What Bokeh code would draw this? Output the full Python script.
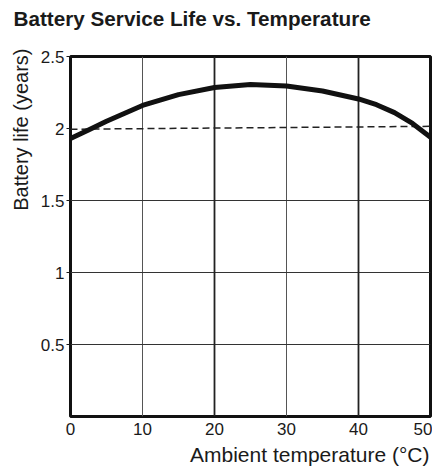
from bokeh.plotting import figure
from bokeh.models import FixedTicker, Grid, Range1d, Title
from bokeh.embed import file_html
from bokeh.resources import INLINE

# ---- data ----
temperature_c = [0, 2.5, 5, 10, 15, 20, 25, 30, 35, 40, 42.5, 45, 47.5, 50]
life_years = [1.93, 1.99, 2.05, 2.16, 2.235, 2.285, 2.305, 2.295, 2.26, 2.205, 2.165, 2.11, 2.035, 1.94]

ref_temperature_c = [0, 50]
ref_life_years = [1.995, 2.015]

x_ticks = [0, 10, 20, 30, 40, 50]
y_ticks = [0.5, 1, 1.5, 2, 2.5]

title_text = "Battery Service Life vs. Temperature"
x_label = "Ambient temperature (\u00b0C)"
y_label = "Battery life (years)"

FONT = "Liberation Sans"
INK = "#1a1a1a"

p = figure(width=432, height=472, output_backend="svg", toolbar_location=None,
           x_range=Range1d(0, 50), y_range=Range1d(0, 2.5),
           min_border_left=70, min_border_right=2, min_border_top=56, min_border_bottom=55)
p.background_fill_color = "white"
p.border_fill_color = "white"
p.outline_line_color = "#111111"
p.outline_line_width = 3

# spacer between frame and title, then the title itself
p.add_layout(Title(text=" ", text_font_size="1px", standoff=22), "above")
p.add_layout(Title(text=title_text, align="left", offset=-57, standoff=0,
                   vertical_align="top",
                   text_font=FONT, text_font_size="20.7px", text_font_style="bold",
                   text_color=INK), "above")

# axes
p.xaxis.ticker = FixedTicker(ticks=x_ticks)
p.yaxis.ticker = FixedTicker(ticks=y_ticks)
for ax in (p.xaxis, p.yaxis):
    ax.axis_line_color = None
    ax.minor_tick_line_color = None
    ax.major_tick_in = 0
    ax.major_label_text_font = FONT
    ax.major_label_text_font_size = "17px"
    ax.major_label_text_color = INK
p.xaxis.major_tick_out = 0
p.xaxis.major_label_standoff = 6
p.yaxis.major_tick_out = 4
p.yaxis.major_tick_line_color = INK
p.yaxis.major_tick_line_width = 1.2
p.yaxis.major_label_standoff = 2

# x axis title, right-aligned under the end of the axis
p.add_layout(Title(text=x_label, align="right", offset=1, standoff=10,
                   vertical_align="top",
                   text_font=FONT, text_font_size="21px", text_font_style="normal",
                   text_color=INK), "below")

# y axis title, placed toward the top end like the reference
p.add_layout(Title(text=y_label, align="right", offset=-8, standoff=12,
                   vertical_align="bottom",
                   text_font=FONT, text_font_size="20px", text_font_style="normal",
                   text_color=INK), "left")

# grid
p.xgrid.ticker = FixedTicker(ticks=[10, 30])
p.xgrid.grid_line_color = "#555555"
p.xgrid.grid_line_width = 1
p.ygrid.ticker = FixedTicker(ticks=[0.5, 1, 1.5])
p.ygrid.grid_line_color = "#333333"
p.ygrid.grid_line_width = 1.2
p.add_layout(Grid(dimension=0, ticker=FixedTicker(ticks=[20, 40]),
                  grid_line_color="#222222", grid_line_width=1.8))

# data
p.line(ref_temperature_c, ref_life_years, line_color="#222222", line_width=1.5,
       line_dash="7 4")
p.line(temperature_c, life_years, line_color="#111111", line_width=5,
       line_join="round", line_cap="round")

open("out.html", "w").write(file_html(p, INLINE))
